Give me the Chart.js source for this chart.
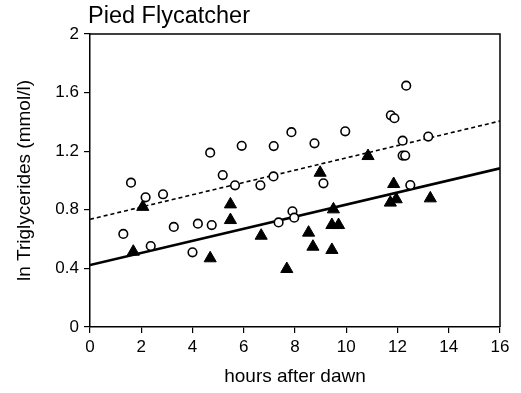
<!DOCTYPE html>
<html>
<head>
<meta charset="utf-8">
<script src="https://cdn.jsdelivr.net/npm/chart.js@4/dist/chart.umd.min.js"></script>
<style>
  html, body { margin: 0; padding: 0; background: #fff; }
  #wrap { width: 521px; height: 393px; position: relative; }
</style>
</head>
<body>
<div id="wrap"><canvas id="c" width="521" height="393"></canvas></div>
<script>
// ---- data ----
const chartTitle = "Pied Flycatcher";
const xAxisTitle = "hours after dawn";
const yAxisTitle = "ln Triglycerides (mmol/l)";

const xTicks = [0, 2, 4, 6, 8, 10, 12, 14, 16];
const yTicks = [0, 0.4, 0.8, 1.2, 1.6, 2];

// open circles
const circleX = [1.30, 1.60, 2.17, 2.37, 2.85, 3.27, 4.00, 4.21, 4.75, 4.69, 5.18, 5.66, 5.92, 6.65, 7.16, 7.17, 7.36, 7.86, 7.90, 7.97, 8.76, 9.11, 9.96, 11.74, 11.88, 12.20, 12.20, 12.30, 12.34, 12.50, 13.20];
const circleY = [0.635, 0.985, 0.885, 0.553, 0.906, 0.683, 0.510, 0.705, 0.696, 1.190, 1.037, 0.967, 1.237, 0.967, 1.028, 1.235, 0.714, 1.330, 0.790, 0.746, 1.254, 0.981, 1.336, 1.445, 1.425, 1.272, 1.170, 1.170, 1.647, 0.969, 1.300];

// filled triangles
const triX = [1.69, 2.06, 4.69, 5.48, 5.48, 6.68, 7.68, 8.53, 8.70, 8.98, 9.44, 9.50, 9.44, 9.70, 10.85, 11.72, 11.95, 11.85, 13.28];
const triY = [0.514, 0.820, 0.469, 0.837, 0.730, 0.623, 0.396, 0.644, 0.548, 1.053, 0.526, 0.803, 0.696, 0.696, 1.167, 0.849, 0.872, 0.976, 0.878];

// regression lines (end points)
const dashedLineX = [0, 16];
const dashedLineY = [0.735, 1.406];
const solidLineX = [0, 16];
const solidLineY = [0.423, 1.083];

const toPts = (xs, ys) => xs.map((x, i) => ({ x: x, y: ys[i] }));

const FONT = "'Liberation Sans', Arial, Helvetica, sans-serif";

const framePlugin = {
  id: 'frame',
  afterDraw(chart) {
    const { ctx, chartArea: a } = chart;
    ctx.save();
    ctx.strokeStyle = '#000';
    ctx.lineWidth = 1.5;
    ctx.beginPath();
    ctx.moveTo(a.left, a.top);
    ctx.lineTo(a.right, a.top);
    ctx.lineTo(a.right, a.bottom);
    ctx.stroke();
    // chart title
    ctx.fillStyle = '#000';
    ctx.font = "23.5px " + FONT;
    ctx.textAlign = 'left';
    ctx.textBaseline = 'alphabetic';
    ctx.fillText(chartTitle, a.left - 2, 23);
    ctx.restore();
  }
};

new Chart(document.getElementById('c'), {
  type: 'scatter',
  data: {
    datasets: [
      {
        label: 'circles',
        data: toPts(circleX, circleY),
        pointStyle: 'circle',
        pointRadius: 4.3,
        pointBorderWidth: 1.6,
        pointBorderColor: '#000',
        pointBackgroundColor: '#fff',
        order: 1
      },
      {
        label: 'triangles',
        data: toPts(triX, triY),
        pointStyle: 'triangle',
        pointRadius: 7,
        pointBorderWidth: 1,
        pointBorderColor: '#000',
        pointBackgroundColor: '#000',
        order: 1
      },
      {
        label: 'dashed',
        data: toPts(dashedLineX, dashedLineY),
        showLine: true,
        borderColor: '#000',
        borderWidth: 1.6,
        borderDash: [4, 3],
        pointRadius: 0,
        fill: false,
        order: 2
      },
      {
        label: 'solid',
        data: toPts(solidLineX, solidLineY),
        showLine: true,
        borderColor: '#000',
        borderWidth: 2.6,
        pointRadius: 0,
        fill: false,
        order: 2
      }
    ]
  },
  options: {
    responsive: false,
    animation: false,
    devicePixelRatio: 1,
    layout: { padding: { top: 34, right: 21, left: 0, bottom: 0 } },
    plugins: {
      legend: { display: false },
      tooltip: { enabled: false },
      title: { display: false }
    },
    scales: {
      x: {
        type: 'linear',
        min: 0, max: 16,
        afterFit(s) { s.height = 66; },
        afterBuildTicks(s) { s.ticks = xTicks.map(v => ({ value: v })); },
        grid: { display: true, drawOnChartArea: false, drawTicks: true, tickLength: 6, color: '#000', lineWidth: 1.2 },
        border: { display: true, color: '#000', width: 1.5 },
        ticks: { color: '#000', font: { family: FONT, size: 17 }, padding: 4, maxRotation: 0, autoSkip: false,
                 callback: (v) => String(v) },
        title: { display: true, text: xAxisTitle, color: '#000', font: { family: FONT, size: 19 }, padding: { top: 0, bottom: 5 } }
      },
      y: {
        type: 'linear',
        min: 0, max: 2,
        afterFit(s) { s.width = 90; },
        afterBuildTicks(s) { s.ticks = yTicks.map(v => ({ value: v })); },
        grid: { display: true, drawOnChartArea: false, drawTicks: true, tickLength: 6, color: '#000', lineWidth: 1.2 },
        border: { display: true, color: '#000', width: 1.5 },
        ticks: { color: '#000', font: { family: FONT, size: 17 }, padding: 5, autoSkip: false,
                 callback: (v) => String(v) },
        title: { display: true, text: yAxisTitle, color: '#000', font: { family: FONT, size: 19 }, padding: { top: 13, bottom: 0 } }
      }
    }
  },
  plugins: [framePlugin]
});
</script>
</body>
</html>
